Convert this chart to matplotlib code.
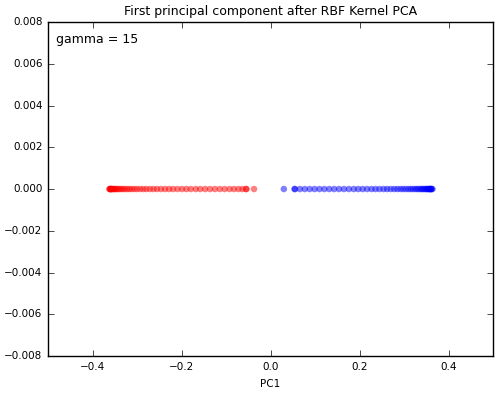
import matplotlib
matplotlib.use("Agg")
import matplotlib.pyplot as plt

plt.style.use("classic")

red_pc1 = [-0.362, -0.361, -0.360, -0.359, -0.358, -0.357, -0.356, -0.354, -0.352, -0.350,
           -0.348, -0.345, -0.342, -0.339, -0.335, -0.331, -0.327, -0.322, -0.317, -0.312,
           -0.306, -0.300, -0.293, -0.286, -0.279, -0.271, -0.263, -0.255, -0.246, -0.237,
           -0.228, -0.219, -0.209, -0.199, -0.189, -0.179, -0.168, -0.158, -0.147, -0.136,
           -0.125, -0.114, -0.103, -0.092, -0.082, -0.072, -0.063, -0.055, -0.054, -0.037]
blue_pc1 = [0.030, 0.054, 0.055, 0.066, 0.077, 0.088, 0.099, 0.110, 0.121, 0.132,
            0.143, 0.154, 0.165, 0.176, 0.187, 0.197, 0.207, 0.217, 0.227, 0.236,
            0.245, 0.254, 0.262, 0.270, 0.278, 0.285, 0.292, 0.298, 0.304, 0.310,
            0.315, 0.320, 0.325, 0.329, 0.333, 0.337, 0.340, 0.343, 0.346, 0.349,
            0.351, 0.353, 0.355, 0.357, 0.358, 0.359, 0.360, 0.361, 0.362, 0.364]
red_y = [0.0] * len(red_pc1)
blue_y = [0.0] * len(blue_pc1)

fig = plt.figure(figsize=(5.0, 3.93), dpi=100, facecolor="white")
ax = fig.add_axes([0.096, 0.094, 0.890, 0.850])

ax.scatter(red_pc1, red_y, color="red", alpha=0.5, s=22, edgecolors="none")
ax.scatter(blue_pc1, blue_y, color="blue", alpha=0.5, s=22, edgecolors="none")

ax.set_xlim(-0.5, 0.5)
ax.set_ylim(-0.008, 0.008)
ax.set_xticks([-0.4, -0.2, 0.0, 0.2, 0.4])
ax.set_yticks([-0.008, -0.006, -0.004, -0.002, 0.0, 0.002, 0.004, 0.006, 0.008])
ax.set_yticklabels(["\u22120.008", "\u22120.006", "\u22120.004", "\u22120.002", "0.000",
                    "0.002", "0.004", "0.006", "0.008"])
ax.tick_params(labelsize=7.5)
ax.set_title("First principal component after RBF Kernel PCA", fontsize=9)
ax.set_xlabel("PC1", fontsize=7.5)
ax.text(0.018, 0.949, "gamma = 15", transform=ax.transAxes, fontsize=9,
        ha="left", va="center")

fig.savefig("out.png", dpi=100, facecolor="white")
